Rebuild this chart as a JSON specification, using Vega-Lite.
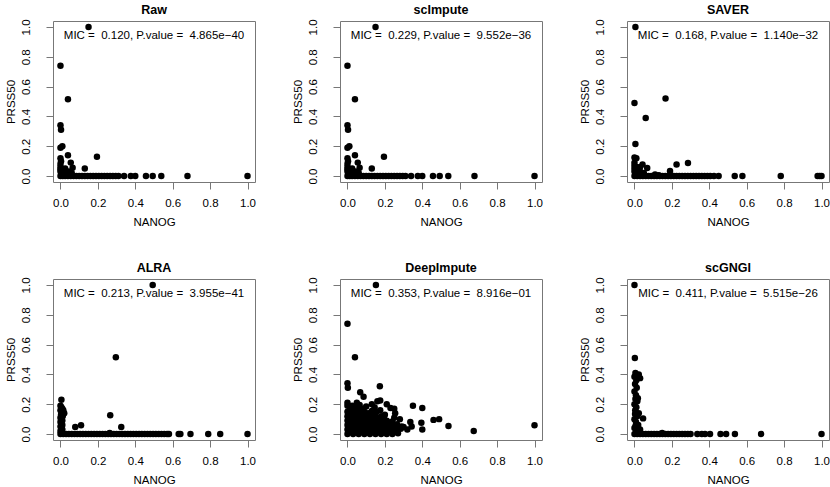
{
  "$schema": "https://vega.github.io/schema/vega-lite/v6.json",
  "background": "white",
  "padding": {"left": 4, "top": 3, "right": 0, "bottom": 0},
  "data": {
    "values": [
      {"m": "Raw", "t": "MIC =\u00a0 0.120, P.value =\u00a0 4.865e−40"},
      {"m": "scImpute", "t": "MIC =\u00a0 0.229, P.value =\u00a0 9.552e−36"},
      {"m": "SAVER", "t": "MIC =\u00a0 0.168, P.value =\u00a0 1.140e−32"},
      {"m": "ALRA", "t": "MIC =\u00a0 0.213, P.value =\u00a0 3.955e−41"},
      {"m": "DeepImpute", "t": "MIC =\u00a0 0.353, P.value =\u00a0 8.916e−01"},
      {"m": "scGNGI", "t": "MIC =\u00a0 0.411, P.value =\u00a0 5.515e−26"},

      {"m": "Raw", "x": 0.15, "y": 1.0},
      {"m": "Raw", "x": 0.0, "y": 0.74},
      {"m": "Raw", "x": 0.04, "y": 0.515},
      {"m": "Raw", "x": 0.0, "y": 0.34},
      {"m": "Raw", "x": 0.003, "y": 0.31},
      {"m": "Raw", "x": 0.0, "y": 0.19},
      {"m": "Raw", "x": 0.01, "y": 0.2},
      {"m": "Raw", "x": 0.0, "y": 0.12},
      {"m": "Raw", "x": 0.04, "y": 0.14},
      {"m": "Raw", "x": 0.195, "y": 0.13},
      {"m": "Raw", "x": 0.055, "y": 0.09},
      {"m": "Raw", "x": 0.065, "y": 0.055},
      {"m": "Raw", "x": 0.13, "y": 0.05},
      {"m": "Raw", "x": 0.0, "y": 0.08},
      {"m": "Raw", "x": 0.0, "y": 0.06},
      {"m": "Raw", "x": 0.0, "y": 0.045},
      {"m": "Raw", "x": 0.0, "y": 0.03},
      {"m": "Raw", "x": 0.003, "y": 0.1},
      {"m": "Raw", "x": 0.01, "y": 0.04},
      {"m": "Raw", "x": 0.02, "y": 0.03},
      {"m": "Raw", "x": 0.015, "y": 0.015},
      {"m": "Raw", "x": 0.03, "y": 0.02},
      {"m": "Raw", "x": 0.045, "y": 0.03},
      {"m": "Raw", "x": 0.06, "y": 0.02},
      {"m": "Raw", "x": 0.025, "y": 0.05},
      {"m": "Raw", "x": 0.0, "y": 0.0},
      {"m": "Raw", "x": 0.012, "y": 0.0},
      {"m": "Raw", "x": 0.025, "y": 0.0},
      {"m": "Raw", "x": 0.04, "y": 0.0},
      {"m": "Raw", "x": 0.055, "y": 0.0},
      {"m": "Raw", "x": 0.07, "y": 0.0},
      {"m": "Raw", "x": 0.085, "y": 0.0},
      {"m": "Raw", "x": 0.1, "y": 0.0},
      {"m": "Raw", "x": 0.115, "y": 0.0},
      {"m": "Raw", "x": 0.13, "y": 0.0},
      {"m": "Raw", "x": 0.145, "y": 0.0},
      {"m": "Raw", "x": 0.16, "y": 0.0},
      {"m": "Raw", "x": 0.175, "y": 0.0},
      {"m": "Raw", "x": 0.19, "y": 0.0},
      {"m": "Raw", "x": 0.205, "y": 0.0},
      {"m": "Raw", "x": 0.22, "y": 0.0},
      {"m": "Raw", "x": 0.235, "y": 0.0},
      {"m": "Raw", "x": 0.25, "y": 0.0},
      {"m": "Raw", "x": 0.265, "y": 0.0},
      {"m": "Raw", "x": 0.28, "y": 0.0},
      {"m": "Raw", "x": 0.295, "y": 0.0},
      {"m": "Raw", "x": 0.31, "y": 0.0},
      {"m": "Raw", "x": 0.34, "y": 0.0},
      {"m": "Raw", "x": 0.376, "y": 0.0},
      {"m": "Raw", "x": 0.4, "y": 0.0},
      {"m": "Raw", "x": 0.457, "y": 0.0},
      {"m": "Raw", "x": 0.493, "y": 0.0},
      {"m": "Raw", "x": 0.539, "y": 0.0},
      {"m": "Raw", "x": 0.679, "y": 0.0},
      {"m": "Raw", "x": 1.0, "y": 0.0},

      {"m": "scImpute", "x": 0.15, "y": 1.0},
      {"m": "scImpute", "x": 0.0, "y": 0.74},
      {"m": "scImpute", "x": 0.04, "y": 0.515},
      {"m": "scImpute", "x": 0.0, "y": 0.34},
      {"m": "scImpute", "x": 0.003, "y": 0.31},
      {"m": "scImpute", "x": 0.0, "y": 0.19},
      {"m": "scImpute", "x": 0.01, "y": 0.2},
      {"m": "scImpute", "x": 0.0, "y": 0.12},
      {"m": "scImpute", "x": 0.04, "y": 0.14},
      {"m": "scImpute", "x": 0.195, "y": 0.13},
      {"m": "scImpute", "x": 0.055, "y": 0.09},
      {"m": "scImpute", "x": 0.065, "y": 0.055},
      {"m": "scImpute", "x": 0.13, "y": 0.05},
      {"m": "scImpute", "x": 0.0, "y": 0.08},
      {"m": "scImpute", "x": 0.0, "y": 0.06},
      {"m": "scImpute", "x": 0.0, "y": 0.045},
      {"m": "scImpute", "x": 0.0, "y": 0.03},
      {"m": "scImpute", "x": 0.003, "y": 0.1},
      {"m": "scImpute", "x": 0.01, "y": 0.04},
      {"m": "scImpute", "x": 0.02, "y": 0.03},
      {"m": "scImpute", "x": 0.015, "y": 0.015},
      {"m": "scImpute", "x": 0.03, "y": 0.02},
      {"m": "scImpute", "x": 0.045, "y": 0.03},
      {"m": "scImpute", "x": 0.06, "y": 0.02},
      {"m": "scImpute", "x": 0.025, "y": 0.05},
      {"m": "scImpute", "x": 0.0, "y": 0.0},
      {"m": "scImpute", "x": 0.012, "y": 0.0},
      {"m": "scImpute", "x": 0.025, "y": 0.0},
      {"m": "scImpute", "x": 0.04, "y": 0.0},
      {"m": "scImpute", "x": 0.055, "y": 0.0},
      {"m": "scImpute", "x": 0.07, "y": 0.0},
      {"m": "scImpute", "x": 0.085, "y": 0.0},
      {"m": "scImpute", "x": 0.1, "y": 0.0},
      {"m": "scImpute", "x": 0.115, "y": 0.0},
      {"m": "scImpute", "x": 0.13, "y": 0.0},
      {"m": "scImpute", "x": 0.145, "y": 0.0},
      {"m": "scImpute", "x": 0.16, "y": 0.0},
      {"m": "scImpute", "x": 0.175, "y": 0.0},
      {"m": "scImpute", "x": 0.19, "y": 0.0},
      {"m": "scImpute", "x": 0.205, "y": 0.0},
      {"m": "scImpute", "x": 0.22, "y": 0.0},
      {"m": "scImpute", "x": 0.235, "y": 0.0},
      {"m": "scImpute", "x": 0.25, "y": 0.0},
      {"m": "scImpute", "x": 0.265, "y": 0.0},
      {"m": "scImpute", "x": 0.28, "y": 0.0},
      {"m": "scImpute", "x": 0.295, "y": 0.0},
      {"m": "scImpute", "x": 0.31, "y": 0.0},
      {"m": "scImpute", "x": 0.34, "y": 0.0},
      {"m": "scImpute", "x": 0.376, "y": 0.0},
      {"m": "scImpute", "x": 0.4, "y": 0.0},
      {"m": "scImpute", "x": 0.457, "y": 0.0},
      {"m": "scImpute", "x": 0.493, "y": 0.0},
      {"m": "scImpute", "x": 0.539, "y": 0.0},
      {"m": "scImpute", "x": 0.679, "y": 0.0},
      {"m": "scImpute", "x": 1.0, "y": 0.0},

      {"m": "SAVER", "x": 0.005, "y": 1.0},
      {"m": "SAVER", "x": 0.0, "y": 0.49},
      {"m": "SAVER", "x": 0.166, "y": 0.52},
      {"m": "SAVER", "x": 0.06, "y": 0.39},
      {"m": "SAVER", "x": 0.005, "y": 0.215},
      {"m": "SAVER", "x": 0.0, "y": 0.125},
      {"m": "SAVER", "x": 0.01, "y": 0.12},
      {"m": "SAVER", "x": 0.225, "y": 0.077},
      {"m": "SAVER", "x": 0.286, "y": 0.088},
      {"m": "SAVER", "x": 0.043, "y": 0.077},
      {"m": "SAVER", "x": 0.068, "y": 0.054},
      {"m": "SAVER", "x": 0.19, "y": 0.034},
      {"m": "SAVER", "x": 0.0, "y": 0.09},
      {"m": "SAVER", "x": 0.0, "y": 0.07},
      {"m": "SAVER", "x": 0.0, "y": 0.05},
      {"m": "SAVER", "x": 0.0, "y": 0.03},
      {"m": "SAVER", "x": 0.01, "y": 0.06},
      {"m": "SAVER", "x": 0.02, "y": 0.045},
      {"m": "SAVER", "x": 0.03, "y": 0.03},
      {"m": "SAVER", "x": 0.015, "y": 0.02},
      {"m": "SAVER", "x": 0.05, "y": 0.02},
      {"m": "SAVER", "x": 0.01, "y": 0.01},
      {"m": "SAVER", "x": 0.03, "y": 0.06},
      {"m": "SAVER", "x": 0.11, "y": 0.01},
      {"m": "SAVER", "x": 0.13, "y": 0.005},
      {"m": "SAVER", "x": 0.0, "y": 0.0},
      {"m": "SAVER", "x": 0.015, "y": 0.0},
      {"m": "SAVER", "x": 0.03, "y": 0.0},
      {"m": "SAVER", "x": 0.045, "y": 0.0},
      {"m": "SAVER", "x": 0.06, "y": 0.0},
      {"m": "SAVER", "x": 0.075, "y": 0.0},
      {"m": "SAVER", "x": 0.09, "y": 0.0},
      {"m": "SAVER", "x": 0.105, "y": 0.0},
      {"m": "SAVER", "x": 0.12, "y": 0.0},
      {"m": "SAVER", "x": 0.135, "y": 0.0},
      {"m": "SAVER", "x": 0.15, "y": 0.0},
      {"m": "SAVER", "x": 0.165, "y": 0.0},
      {"m": "SAVER", "x": 0.18, "y": 0.0},
      {"m": "SAVER", "x": 0.195, "y": 0.0},
      {"m": "SAVER", "x": 0.21, "y": 0.0},
      {"m": "SAVER", "x": 0.225, "y": 0.0},
      {"m": "SAVER", "x": 0.24, "y": 0.0},
      {"m": "SAVER", "x": 0.255, "y": 0.0},
      {"m": "SAVER", "x": 0.27, "y": 0.0},
      {"m": "SAVER", "x": 0.285, "y": 0.0},
      {"m": "SAVER", "x": 0.3, "y": 0.0},
      {"m": "SAVER", "x": 0.315, "y": 0.0},
      {"m": "SAVER", "x": 0.33, "y": 0.0},
      {"m": "SAVER", "x": 0.345, "y": 0.0},
      {"m": "SAVER", "x": 0.36, "y": 0.0},
      {"m": "SAVER", "x": 0.375, "y": 0.0},
      {"m": "SAVER", "x": 0.39, "y": 0.0},
      {"m": "SAVER", "x": 0.405, "y": 0.0},
      {"m": "SAVER", "x": 0.425, "y": 0.0},
      {"m": "SAVER", "x": 0.45, "y": 0.0},
      {"m": "SAVER", "x": 0.536, "y": 0.0},
      {"m": "SAVER", "x": 0.577, "y": 0.0},
      {"m": "SAVER", "x": 0.782, "y": 0.0},
      {"m": "SAVER", "x": 0.979, "y": 0.0},
      {"m": "SAVER", "x": 0.99, "y": 0.0},
      {"m": "SAVER", "x": 1.0, "y": 0.0},

      {"m": "ALRA", "x": 0.493, "y": 1.0},
      {"m": "ALRA", "x": 0.296, "y": 0.515},
      {"m": "ALRA", "x": 0.005, "y": 0.23},
      {"m": "ALRA", "x": 0.266, "y": 0.126},
      {"m": "ALRA", "x": 0.079, "y": 0.047},
      {"m": "ALRA", "x": 0.11, "y": 0.059},
      {"m": "ALRA", "x": 0.325, "y": 0.047},
      {"m": "ALRA", "x": 0.263, "y": 0.007},
      {"m": "ALRA", "x": 0.016, "y": 0.14},
      {"m": "ALRA", "x": 0.0, "y": 0.19},
      {"m": "ALRA", "x": 0.005, "y": 0.18},
      {"m": "ALRA", "x": 0.01, "y": 0.17},
      {"m": "ALRA", "x": 0.0, "y": 0.16},
      {"m": "ALRA", "x": 0.008, "y": 0.15},
      {"m": "ALRA", "x": 0.003, "y": 0.13},
      {"m": "ALRA", "x": 0.012, "y": 0.12},
      {"m": "ALRA", "x": 0.0, "y": 0.11},
      {"m": "ALRA", "x": 0.006, "y": 0.1},
      {"m": "ALRA", "x": 0.01, "y": 0.09},
      {"m": "ALRA", "x": 0.0, "y": 0.08},
      {"m": "ALRA", "x": 0.005, "y": 0.07},
      {"m": "ALRA", "x": 0.01, "y": 0.06},
      {"m": "ALRA", "x": 0.0, "y": 0.05},
      {"m": "ALRA", "x": 0.006, "y": 0.04},
      {"m": "ALRA", "x": 0.01, "y": 0.03},
      {"m": "ALRA", "x": 0.0, "y": 0.02},
      {"m": "ALRA", "x": 0.005, "y": 0.01},
      {"m": "ALRA", "x": 0.015, "y": 0.16},
      {"m": "ALRA", "x": 0.02, "y": 0.14},
      {"m": "ALRA", "x": 0.0, "y": 0.0},
      {"m": "ALRA", "x": 0.015, "y": 0.0},
      {"m": "ALRA", "x": 0.03, "y": 0.0},
      {"m": "ALRA", "x": 0.045, "y": 0.0},
      {"m": "ALRA", "x": 0.06, "y": 0.0},
      {"m": "ALRA", "x": 0.075, "y": 0.0},
      {"m": "ALRA", "x": 0.09, "y": 0.0},
      {"m": "ALRA", "x": 0.105, "y": 0.0},
      {"m": "ALRA", "x": 0.12, "y": 0.0},
      {"m": "ALRA", "x": 0.135, "y": 0.0},
      {"m": "ALRA", "x": 0.15, "y": 0.0},
      {"m": "ALRA", "x": 0.165, "y": 0.0},
      {"m": "ALRA", "x": 0.18, "y": 0.0},
      {"m": "ALRA", "x": 0.195, "y": 0.0},
      {"m": "ALRA", "x": 0.21, "y": 0.0},
      {"m": "ALRA", "x": 0.225, "y": 0.0},
      {"m": "ALRA", "x": 0.24, "y": 0.0},
      {"m": "ALRA", "x": 0.255, "y": 0.0},
      {"m": "ALRA", "x": 0.27, "y": 0.0},
      {"m": "ALRA", "x": 0.285, "y": 0.0},
      {"m": "ALRA", "x": 0.3, "y": 0.0},
      {"m": "ALRA", "x": 0.315, "y": 0.0},
      {"m": "ALRA", "x": 0.33, "y": 0.0},
      {"m": "ALRA", "x": 0.345, "y": 0.0},
      {"m": "ALRA", "x": 0.36, "y": 0.0},
      {"m": "ALRA", "x": 0.375, "y": 0.0},
      {"m": "ALRA", "x": 0.39, "y": 0.0},
      {"m": "ALRA", "x": 0.405, "y": 0.0},
      {"m": "ALRA", "x": 0.42, "y": 0.0},
      {"m": "ALRA", "x": 0.435, "y": 0.0},
      {"m": "ALRA", "x": 0.45, "y": 0.0},
      {"m": "ALRA", "x": 0.465, "y": 0.0},
      {"m": "ALRA", "x": 0.48, "y": 0.0},
      {"m": "ALRA", "x": 0.495, "y": 0.0},
      {"m": "ALRA", "x": 0.51, "y": 0.0},
      {"m": "ALRA", "x": 0.525, "y": 0.0},
      {"m": "ALRA", "x": 0.54, "y": 0.0},
      {"m": "ALRA", "x": 0.555, "y": 0.0},
      {"m": "ALRA", "x": 0.57, "y": 0.0},
      {"m": "ALRA", "x": 0.58, "y": 0.0},
      {"m": "ALRA", "x": 0.632, "y": 0.0},
      {"m": "ALRA", "x": 0.641, "y": 0.0},
      {"m": "ALRA", "x": 0.695, "y": 0.0},
      {"m": "ALRA", "x": 0.79, "y": 0.0},
      {"m": "ALRA", "x": 0.854, "y": 0.0},
      {"m": "ALRA", "x": 1.0, "y": 0.0},

      {"m": "DeepImpute", "x": 0.152, "y": 1.0},
      {"m": "DeepImpute", "x": 0.0, "y": 0.74},
      {"m": "DeepImpute", "x": 0.04, "y": 0.515},
      {"m": "DeepImpute", "x": 0.0, "y": 0.34},
      {"m": "DeepImpute", "x": 0.002, "y": 0.31},
      {"m": "DeepImpute", "x": 0.173, "y": 0.32},
      {"m": "DeepImpute", "x": 0.068, "y": 0.28},
      {"m": "DeepImpute", "x": 0.086, "y": 0.25},
      {"m": "DeepImpute", "x": 0.35, "y": 0.19},
      {"m": "DeepImpute", "x": 0.4, "y": 0.175},
      {"m": "DeepImpute", "x": 0.46, "y": 0.095},
      {"m": "DeepImpute", "x": 0.49, "y": 0.1},
      {"m": "DeepImpute", "x": 0.54, "y": 0.054},
      {"m": "DeepImpute", "x": 0.675, "y": 0.02},
      {"m": "DeepImpute", "x": 1.0, "y": 0.059},
      {"m": "DeepImpute", "x": 0.395, "y": 0.075},
      {"m": "DeepImpute", "x": 0.4, "y": 0.03},
      {"m": "DeepImpute", "x": 0.336, "y": 0.08},
      {"m": "DeepImpute", "x": 0.343, "y": 0.05},
      {"m": "DeepImpute", "x": 0.3, "y": 0.047},
      {"m": "DeepImpute", "x": 0.255, "y": 0.14},
      {"m": "DeepImpute", "x": 0.21, "y": 0.2},
      {"m": "DeepImpute", "x": 0.175, "y": 0.16},
      {"m": "DeepImpute", "x": 0.11, "y": 0.14},
      {"m": "DeepImpute", "x": 0.0, "y": 0.21},
      {"m": "DeepImpute", "x": 0.05, "y": 0.21},
      {"m": "DeepImpute", "x": 0.13, "y": 0.2},
      {"m": "DeepImpute", "x": 0.16, "y": 0.22},
      {"m": "DeepImpute", "x": 0.175, "y": 0.225},
      {"m": "DeepImpute", "x": 0.23, "y": 0.175},
      {"m": "DeepImpute", "x": 0.25, "y": 0.17},
      {"m": "DeepImpute", "x": 0.28, "y": 0.1},
      {"m": "DeepImpute", "x": 0.29, "y": 0.05},
      {"m": "DeepImpute", "x": 0.27, "y": 0.03},
      {"m": "DeepImpute", "x": 0.32, "y": 0.03},
      {"m": "DeepImpute", "x": 0.25, "y": 0.11},
      {"m": "DeepImpute", "x": 0.0, "y": 0.0},
      {"m": "DeepImpute", "x": 0.03, "y": 0.0},
      {"m": "DeepImpute", "x": 0.06, "y": 0.0},
      {"m": "DeepImpute", "x": 0.09, "y": 0.0},
      {"m": "DeepImpute", "x": 0.12, "y": 0.0},
      {"m": "DeepImpute", "x": 0.15, "y": 0.0},
      {"m": "DeepImpute", "x": 0.18, "y": 0.0},
      {"m": "DeepImpute", "x": 0.21, "y": 0.0},
      {"m": "DeepImpute", "x": 0.24, "y": 0.0},
      {"m": "DeepImpute", "x": 0.27, "y": 0.005},
      {"m": "DeepImpute", "x": 0.015, "y": 0.015},
      {"m": "DeepImpute", "x": 0.045, "y": 0.015},
      {"m": "DeepImpute", "x": 0.075, "y": 0.015},
      {"m": "DeepImpute", "x": 0.105, "y": 0.015},
      {"m": "DeepImpute", "x": 0.135, "y": 0.015},
      {"m": "DeepImpute", "x": 0.165, "y": 0.015},
      {"m": "DeepImpute", "x": 0.195, "y": 0.015},
      {"m": "DeepImpute", "x": 0.225, "y": 0.015},
      {"m": "DeepImpute", "x": 0.255, "y": 0.015},
      {"m": "DeepImpute", "x": 0.0, "y": 0.03},
      {"m": "DeepImpute", "x": 0.03, "y": 0.03},
      {"m": "DeepImpute", "x": 0.06, "y": 0.03},
      {"m": "DeepImpute", "x": 0.09, "y": 0.03},
      {"m": "DeepImpute", "x": 0.12, "y": 0.03},
      {"m": "DeepImpute", "x": 0.15, "y": 0.03},
      {"m": "DeepImpute", "x": 0.18, "y": 0.03},
      {"m": "DeepImpute", "x": 0.21, "y": 0.03},
      {"m": "DeepImpute", "x": 0.24, "y": 0.03},
      {"m": "DeepImpute", "x": 0.285, "y": 0.035},
      {"m": "DeepImpute", "x": 0.015, "y": 0.045},
      {"m": "DeepImpute", "x": 0.045, "y": 0.045},
      {"m": "DeepImpute", "x": 0.075, "y": 0.045},
      {"m": "DeepImpute", "x": 0.105, "y": 0.045},
      {"m": "DeepImpute", "x": 0.135, "y": 0.045},
      {"m": "DeepImpute", "x": 0.165, "y": 0.045},
      {"m": "DeepImpute", "x": 0.195, "y": 0.045},
      {"m": "DeepImpute", "x": 0.225, "y": 0.045},
      {"m": "DeepImpute", "x": 0.255, "y": 0.045},
      {"m": "DeepImpute", "x": 0.0, "y": 0.06},
      {"m": "DeepImpute", "x": 0.03, "y": 0.06},
      {"m": "DeepImpute", "x": 0.06, "y": 0.06},
      {"m": "DeepImpute", "x": 0.09, "y": 0.06},
      {"m": "DeepImpute", "x": 0.12, "y": 0.06},
      {"m": "DeepImpute", "x": 0.15, "y": 0.06},
      {"m": "DeepImpute", "x": 0.18, "y": 0.06},
      {"m": "DeepImpute", "x": 0.21, "y": 0.06},
      {"m": "DeepImpute", "x": 0.24, "y": 0.06},
      {"m": "DeepImpute", "x": 0.265, "y": 0.065},
      {"m": "DeepImpute", "x": 0.015, "y": 0.075},
      {"m": "DeepImpute", "x": 0.045, "y": 0.075},
      {"m": "DeepImpute", "x": 0.075, "y": 0.075},
      {"m": "DeepImpute", "x": 0.105, "y": 0.075},
      {"m": "DeepImpute", "x": 0.135, "y": 0.075},
      {"m": "DeepImpute", "x": 0.165, "y": 0.075},
      {"m": "DeepImpute", "x": 0.195, "y": 0.075},
      {"m": "DeepImpute", "x": 0.225, "y": 0.075},
      {"m": "DeepImpute", "x": 0.0, "y": 0.09},
      {"m": "DeepImpute", "x": 0.03, "y": 0.09},
      {"m": "DeepImpute", "x": 0.06, "y": 0.09},
      {"m": "DeepImpute", "x": 0.09, "y": 0.09},
      {"m": "DeepImpute", "x": 0.12, "y": 0.09},
      {"m": "DeepImpute", "x": 0.15, "y": 0.09},
      {"m": "DeepImpute", "x": 0.18, "y": 0.09},
      {"m": "DeepImpute", "x": 0.21, "y": 0.09},
      {"m": "DeepImpute", "x": 0.24, "y": 0.085},
      {"m": "DeepImpute", "x": 0.015, "y": 0.105},
      {"m": "DeepImpute", "x": 0.045, "y": 0.105},
      {"m": "DeepImpute", "x": 0.075, "y": 0.105},
      {"m": "DeepImpute", "x": 0.105, "y": 0.105},
      {"m": "DeepImpute", "x": 0.135, "y": 0.105},
      {"m": "DeepImpute", "x": 0.165, "y": 0.105},
      {"m": "DeepImpute", "x": 0.195, "y": 0.105},
      {"m": "DeepImpute", "x": 0.0, "y": 0.12},
      {"m": "DeepImpute", "x": 0.03, "y": 0.12},
      {"m": "DeepImpute", "x": 0.06, "y": 0.12},
      {"m": "DeepImpute", "x": 0.09, "y": 0.12},
      {"m": "DeepImpute", "x": 0.12, "y": 0.12},
      {"m": "DeepImpute", "x": 0.15, "y": 0.12},
      {"m": "DeepImpute", "x": 0.18, "y": 0.12},
      {"m": "DeepImpute", "x": 0.2, "y": 0.13},
      {"m": "DeepImpute", "x": 0.015, "y": 0.135},
      {"m": "DeepImpute", "x": 0.045, "y": 0.135},
      {"m": "DeepImpute", "x": 0.075, "y": 0.135},
      {"m": "DeepImpute", "x": 0.14, "y": 0.135},
      {"m": "DeepImpute", "x": 0.0, "y": 0.15},
      {"m": "DeepImpute", "x": 0.03, "y": 0.15},
      {"m": "DeepImpute", "x": 0.06, "y": 0.155},
      {"m": "DeepImpute", "x": 0.09, "y": 0.15},
      {"m": "DeepImpute", "x": 0.13, "y": 0.155},
      {"m": "DeepImpute", "x": 0.155, "y": 0.15},
      {"m": "DeepImpute", "x": 0.015, "y": 0.17},
      {"m": "DeepImpute", "x": 0.045, "y": 0.175},
      {"m": "DeepImpute", "x": 0.08, "y": 0.17},
      {"m": "DeepImpute", "x": 0.0, "y": 0.19},
      {"m": "DeepImpute", "x": 0.025, "y": 0.19},
      {"m": "DeepImpute", "x": 0.065, "y": 0.195},
      {"m": "DeepImpute", "x": 0.1, "y": 0.185},
      {"m": "DeepImpute", "x": 0.145, "y": 0.18},

      {"m": "scGNGI", "x": 0.0, "y": 1.0},
      {"m": "scGNGI", "x": 0.002, "y": 0.51},
      {"m": "scGNGI", "x": 0.005, "y": 0.41},
      {"m": "scGNGI", "x": 0.023, "y": 0.4},
      {"m": "scGNGI", "x": 0.03, "y": 0.375},
      {"m": "scGNGI", "x": 0.018, "y": 0.24},
      {"m": "scGNGI", "x": 0.023, "y": 0.14},
      {"m": "scGNGI", "x": 0.046, "y": 0.105},
      {"m": "scGNGI", "x": 0.148, "y": 0.007},
      {"m": "scGNGI", "x": 0.0, "y": 0.385},
      {"m": "scGNGI", "x": 0.01, "y": 0.36},
      {"m": "scGNGI", "x": 0.003, "y": 0.335},
      {"m": "scGNGI", "x": 0.012, "y": 0.31},
      {"m": "scGNGI", "x": 0.0, "y": 0.285},
      {"m": "scGNGI", "x": 0.008, "y": 0.26},
      {"m": "scGNGI", "x": 0.015, "y": 0.22},
      {"m": "scGNGI", "x": 0.0, "y": 0.2},
      {"m": "scGNGI", "x": 0.01, "y": 0.18},
      {"m": "scGNGI", "x": 0.004, "y": 0.16},
      {"m": "scGNGI", "x": 0.015, "y": 0.12},
      {"m": "scGNGI", "x": 0.0, "y": 0.1},
      {"m": "scGNGI", "x": 0.008, "y": 0.08},
      {"m": "scGNGI", "x": 0.02, "y": 0.06},
      {"m": "scGNGI", "x": 0.0, "y": 0.04},
      {"m": "scGNGI", "x": 0.01, "y": 0.02},
      {"m": "scGNGI", "x": 0.03, "y": 0.03},
      {"m": "scGNGI", "x": 0.02, "y": 0.01},
      {"m": "scGNGI", "x": 0.005, "y": 0.235},
      {"m": "scGNGI", "x": 0.003, "y": 0.135},
      {"m": "scGNGI", "x": 0.006, "y": 0.055},
      {"m": "scGNGI", "x": 0.0, "y": 0.0},
      {"m": "scGNGI", "x": 0.015, "y": 0.0},
      {"m": "scGNGI", "x": 0.03, "y": 0.0},
      {"m": "scGNGI", "x": 0.045, "y": 0.0},
      {"m": "scGNGI", "x": 0.06, "y": 0.0},
      {"m": "scGNGI", "x": 0.075, "y": 0.0},
      {"m": "scGNGI", "x": 0.09, "y": 0.0},
      {"m": "scGNGI", "x": 0.105, "y": 0.0},
      {"m": "scGNGI", "x": 0.12, "y": 0.0},
      {"m": "scGNGI", "x": 0.135, "y": 0.0},
      {"m": "scGNGI", "x": 0.15, "y": 0.0},
      {"m": "scGNGI", "x": 0.165, "y": 0.0},
      {"m": "scGNGI", "x": 0.18, "y": 0.0},
      {"m": "scGNGI", "x": 0.195, "y": 0.0},
      {"m": "scGNGI", "x": 0.21, "y": 0.0},
      {"m": "scGNGI", "x": 0.225, "y": 0.0},
      {"m": "scGNGI", "x": 0.24, "y": 0.0},
      {"m": "scGNGI", "x": 0.255, "y": 0.0},
      {"m": "scGNGI", "x": 0.27, "y": 0.0},
      {"m": "scGNGI", "x": 0.285, "y": 0.0},
      {"m": "scGNGI", "x": 0.3, "y": 0.0},
      {"m": "scGNGI", "x": 0.336, "y": 0.0},
      {"m": "scGNGI", "x": 0.36, "y": 0.0},
      {"m": "scGNGI", "x": 0.377, "y": 0.0},
      {"m": "scGNGI", "x": 0.404, "y": 0.0},
      {"m": "scGNGI", "x": 0.46, "y": 0.0},
      {"m": "scGNGI", "x": 0.49, "y": 0.0},
      {"m": "scGNGI", "x": 0.537, "y": 0.0},
      {"m": "scGNGI", "x": 0.677, "y": 0.0},
      {"m": "scGNGI", "x": 1.0, "y": 0.0}
    ]
  },
  "facet": {
    "field": "m",
    "type": "nominal",
    "sort": ["Raw", "scImpute", "SAVER", "ALRA", "DeepImpute", "scGNGI"],
    "title": null,
    "header": {
      "labelFont": "Liberation Sans",
      "labelFontSize": 12.5,
      "labelFontWeight": "bold",
      "labelColor": "black",
      "labelPadding": 2.5
    }
  },
  "columns": 3,
  "bounds": "flush",
  "spacing": {"column": 85, "row": 97},
  "resolve": {"axis": {"x": "independent", "y": "independent"}},
  "spec": {
    "width": 202,
    "height": 161,
    "layer": [
      {
        "transform": [{"filter": "isValid(datum.x)"}],
        "mark": {"type": "point", "filled": true, "color": "black", "opacity": 1, "size": 42},
        "encoding": {
          "x": {
            "field": "x",
            "type": "quantitative",
            "title": "NANOG",
            "scale": {"domain": [-0.04, 1.04], "nice": false, "zero": false}
          },
          "y": {
            "field": "y",
            "type": "quantitative",
            "title": "PRSS50",
            "scale": {"domain": [-0.04, 1.04], "nice": false, "zero": false}
          }
        }
      },
      {
        "transform": [{"filter": "isValid(datum.t)"}],
        "mark": {"type": "text", "font": "Liberation Sans", "fontSize": 11.5, "color": "black"},
        "encoding": {
          "x": {"datum": 0.5, "type": "quantitative"},
          "y": {"datum": 0.94, "type": "quantitative"},
          "text": {"field": "t"}
        }
      }
    ]
  },
  "config": {
    "view": {"stroke": "#777", "strokeWidth": 1},
    "axis": {
      "grid": false,
      "domain": false,
      "ticks": true,
      "tickSize": 7,
      "tickColor": "#777",
      "values": [0, 0.2, 0.4, 0.6, 0.8, 1.0],
      "format": ".1f",
      "labelFont": "Liberation Sans",
      "labelFontSize": 11.5,
      "labelColor": "black",
      "labelFlush": false,
      "labelOverlap": false,
      "titleFont": "Liberation Sans",
      "titleFontSize": 11.5,
      "titleFontWeight": "normal",
      "titleColor": "black"
    },
    "axisX": {"labelPadding": 8.5, "titlePadding": 7},
    "axisY": {
      "labelAngle": 270,
      "labelAlign": "center",
      "labelBaseline": "bottom",
      "labelPadding": 15,
      "titlePadding": 4
    }
  }
}
